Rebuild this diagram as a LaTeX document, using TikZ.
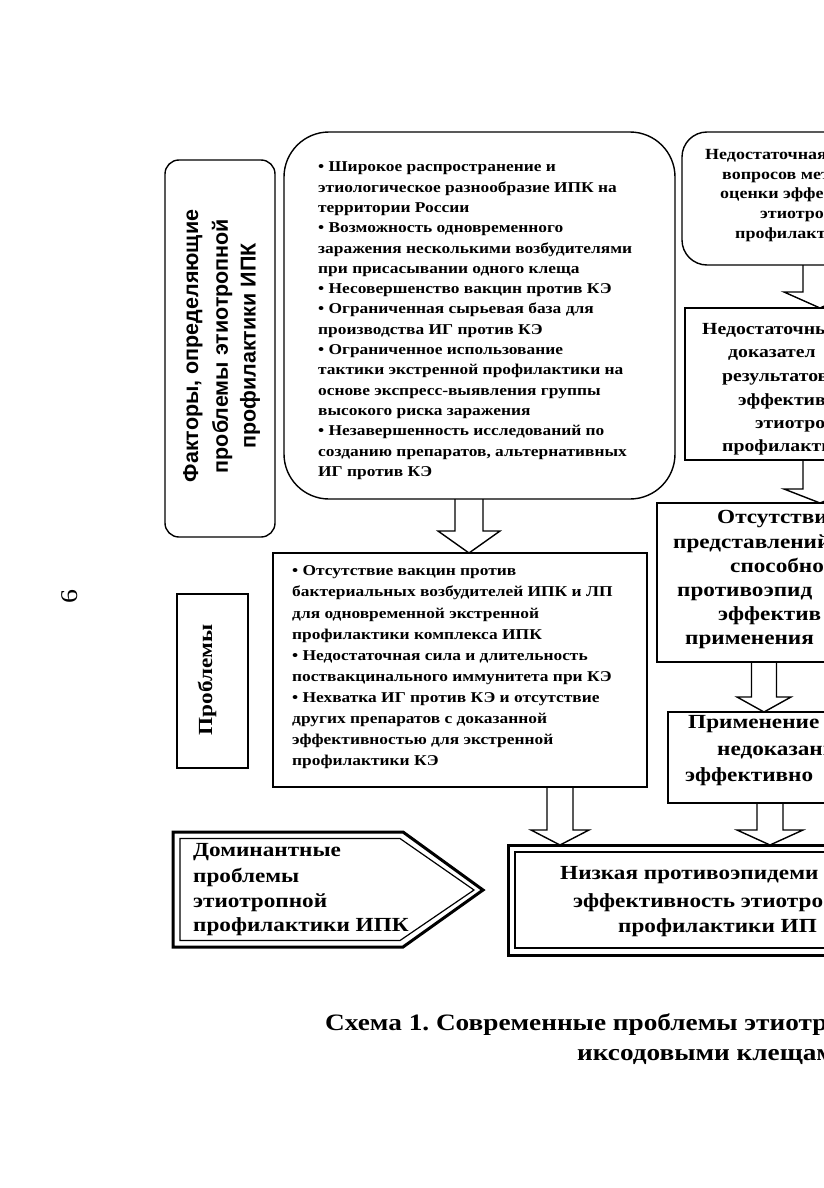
\documentclass[tikz,border=0pt]{standalone}
\usepackage{fontspec}
\setmainfont{Liberation Serif}[FakeStretch=1.16]
\newfontfamily\lsans{Liberation Sans}
\usetikzlibrary{calc}
\frenchspacing
\tikzset{
  frame/.style={draw, line width=1.4pt, inner sep=0pt, outer sep=0pt},
  blk/.style={draw, line width=1.4pt, line join=miter},
  ln/.style={anchor=west, inner sep=0pt, text height=1.5ex, text depth=0.25ex},
  f15/.style={font=\bfseries\fontsize{15}{18}\selectfont},
  f16/.style={font=\bfseries\fontsize{15.5}{19}\selectfont},
  f17/.style={font=\bfseries\fontsize{17}{20}\selectfont},
  f20/.style={font=\bfseries\fontsize{20}{24}\selectfont},
  fcap/.style={font=\bfseries\fontsize{23.5}{27}\selectfont},
}
% #1 start, #2 tip, #3 half shaft, #4 half head, #5 head length
\newcommand\barrow[5]{%
  \draw[blk] let \p1=(#1), \p2=(#2) in
    (\x1-#3,\y1) -- (\x1-#3,\y2+#5) -- (\x1-#4,\y2+#5) -- (\x1,\y2)
    -- (\x1+#4,\y2+#5) -- (\x1+#3,\y2+#5) -- (\x1+#3,\y1);}
\begin{document}
\begin{tikzpicture}[x=1pt,y=-1pt]
\useasboundingbox (0,0) rectangle (823,1188);
\fill[white] (0,0) rectangle (823,1188);

% page number
\node[rotate=90, inner sep=0pt, font=\fontsize{24}{24}\selectfont] (pg) at (70,597) {6};

% left column
\node[frame, rounded corners=14pt, minimum width=110pt, minimum height=377pt] (fac) at (220,348.5) {};
\foreach \xa/\tx [count=\i] in {193/{Факторы, определяющие}, 222/проблемы этиотропной, 250/профилактики ИПК}
  \node[rotate=90, inner sep=0pt, font=\lsans\bfseries\fontsize{21.5}{24}\selectfont] (fac\i) at (\xa,346) {\tx};

\node[frame, minimum width=71pt, minimum height=174pt] (plbl) at (212.5,681) {};
\node[rotate=90, inner sep=0pt, f20] (plbltxt) at (207,680) {Проблемы};

% big factor box
\node[frame, rounded corners=45pt, minimum width=391pt, minimum height=367pt] (big) at (479.5,315.5) {};
\foreach \tx [count=\i] in {
  {• Широкое распространение и},
  {этиологическое разнообразие ИПК  на},
  {территории России},
  {• Возможность одновременного},
  {заражения несколькими возбудителями},
  {при присасывании одного клеща},
  {• Несовершенство вакцин против КЭ},
  {• Ограниченная сырьевая база для},
  {производства ИГ против КЭ},
  {• Ограниченное использование},
  {тактики экстренной профилактики на},
  {основе экспресс-выявления группы},
  {высокого риска заражения},
  {• Незавершенность исследований по},
  {созданию  препаратов, альтернативных},
  {ИГ против КЭ}}
  \node[ln, f15] (bigl\i) at (318,{169+20.3*(\i-1)}) {\tx};

% problems box
\node[frame, minimum width=374pt, minimum height=234pt] (prob) at (460,670) {};
\foreach \tx [count=\i] in {
  {• Отсутствие  вакцин против},
  {бактериальных возбудителей ИПК и ЛП},
  {для одновременной экстренной},
  {профилактики комплекса ИПК},
  {• Недостаточная сила и длительность},
  {поствакцинального иммунитета при КЭ},
  {• Нехватка ИГ против КЭ и отсутствие},
  {других препаратов с доказанной},
  {эффективностью  для экстренной},
  {профилактики КЭ}}
  \node[ln, f15] (probl\i) at (292,{573+21.1*(\i-1)}) {\tx};

% right column boxes
\node[frame, rounded corners=25pt, minimum width=218pt, minimum height=133pt] (r1) at (791,198.5) {};
\foreach \xa/\ya/\tx [count=\i] in {705/157/Недостаточная, 722/177/вопросов мет, 720/196/оценки эффе, 760/216/этиотро, 735/236/профилакти}
  \node[ln, f16] (r1l\i) at (\xa,\ya) {\tx};

\node[frame, minimum width=215pt, minimum height=152pt] (r2) at (792.5,384) {};
\foreach \xa/\ya/\tx [count=\i] in {702/332/Недостаточны, 728/355/доказател, 722/379/результатов, 738/403/эффектив, 755/426/этиотро, 722/449/профилакти}
  \node[ln, f17] (r2l\i) at (\xa,\ya) {\tx};

\node[frame, minimum width=243pt, minimum height=159pt] (r3) at (778.5,582.5) {};
\foreach \xa/\ya/\tx [count=\i] in {717/521/Отсутстви, 673/546/представлений, 730/570/способно, 677/594/противоэпид, 718/618/эффектив, 685/642/применения}
  \node[ln, f20] (r3l\i) at (\xa,\ya) {\tx};

\node[frame, minimum width=232pt, minimum height=91pt] (r4) at (784,757.5) {};
\foreach \xa/\ya/\tx [count=\i] in {688/726/Применение, 717/753/недоказанн, 685/779/эффективно}
  \node[ln, f20] (r4l\i) at (\xa,\ya) {\tx};

% bottom result box (double frame)
\node[draw, line width=3pt, inner sep=0pt, outer sep=0pt, minimum width=392pt, minimum height=110pt] (bot) at (704,900) {};
\draw[line width=1.2pt] ($(bot.north west)+(7,7)$) rectangle ($(bot.south east)+(-7,-7)$);
\foreach \xa/\ya/\tx [count=\i] in {560/877/Низкая противоэпидеми, 573/905/эффективность этиотро, 618/930/профилактики ИП}
  \node[ln, f20] (botl\i) at (\xa,\ya) {\tx};

% dominant problems pentagon (double frame)
\draw[line width=3pt, line join=miter] (173,832) -- (403,832) -- (483,890) -- (403,947) -- (173,947) -- cycle;
\draw[line width=1.2pt, line join=miter] (180,838.5) -- (400,838.5) -- (474,890) -- (400,940.5) -- (180,940.5) -- cycle;
\foreach \ya/\tx [count=\i] in {854/Доминантные, 880/проблемы, 905/этиотропной, 929/профилактики ИПК}
  \node[ln, f20] (doml\i) at (193,\ya) {\tx};

% block arrows
\barrow{469,0 |- big.south}{469,0 |- prob.north}{14}{31}{22}
\barrow{820,0 |- r1.south}{820,0 |- r2.north}{17}{36}{16}
\barrow{820,0 |- r2.south}{820,0 |- r3.north}{17}{36}{14}
\barrow{764,0 |- r3.south}{764,0 |- r4.north}{12.5}{27}{15}
\barrow{560,0 |- prob.south}{560,0 |- bot.north}{13}{29}{15}
\barrow{770,0 |- r4.south}{770,0 |- bot.north}{13}{33}{15}

% caption
\node[ln, fcap] (cap1) at (325,1028) {Схема 1. Современные проблемы этиотр};
\node[ln, fcap] (cap2) at (577,1058) {иксодовыми клещам};
\end{tikzpicture}
\end{document}
